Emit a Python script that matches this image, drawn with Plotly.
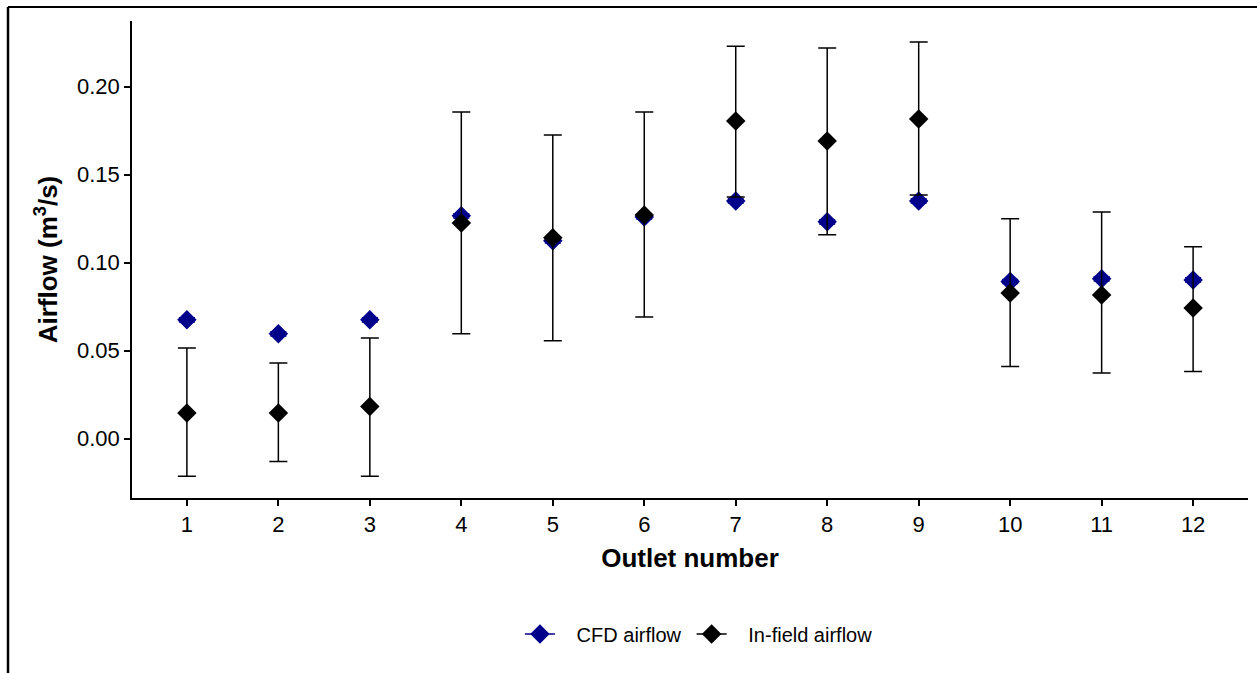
import plotly.graph_objects as go

outlets = [1, 2, 3, 4, 5, 6, 7, 8, 9, 10, 11, 12]
tick_labels = [str(o) for o in outlets]

cfd_airflow = [0.0675, 0.0596, 0.0675, 0.1266, 0.1124, 0.1260,
               0.1351, 0.1232, 0.1351, 0.0893, 0.0908, 0.0902]
cfd_err = [0.0012] * 12

infield_airflow = [0.0146, 0.0146, 0.0183, 0.1226, 0.1141, 0.1271,
                   0.1805, 0.1691, 0.1816, 0.0827, 0.0817, 0.0742]
infield_upper = [0.0515, 0.0430, 0.0572, 0.1856, 0.1725, 0.1856,
                 0.2230, 0.2219, 0.2253, 0.1249, 0.1288, 0.1091]
infield_lower = [-0.0214, -0.0129, -0.0214, 0.0596, 0.0556, 0.0692,
                 0.1373, 0.1158, 0.1385, 0.0410, 0.0373, 0.0382]

err_plus = [u - m for u, m in zip(infield_upper, infield_airflow)]
err_minus = [m - l for m, l in zip(infield_airflow, infield_lower)]

FONT = "Liberation Sans, Arial, sans-serif"
NAVY = "#00008B"
PAD = "\u00a0\u00a0\u00a0"

fig = go.Figure()

fig.add_trace(go.Scatter(
    x=outlets, y=cfd_airflow, mode="markers", name="CFD airflow",
    marker=dict(symbol="diamond", size=15, color=NAVY),
    error_y=dict(type="data", array=cfd_err, color=NAVY, thickness=1.5, width=8),
    showlegend=False,
))
fig.add_trace(go.Scatter(
    x=outlets, y=infield_airflow, mode="markers", name="In-field airflow",
    marker=dict(symbol="diamond", size=15, color="black"),
    error_y=dict(type="data", symmetric=False, array=err_plus, arrayminus=err_minus,
                 color="black", thickness=1.5, width=9),
    showlegend=False,
))
# legend entries (symbol with line, as in the reference)
fig.add_trace(go.Scatter(
    x=[None], y=[None], mode="lines+markers", name=PAD + "CFD airflow" + "\u00a0",
    marker=dict(symbol="diamond", size=15, color=NAVY),
    line=dict(color=NAVY, width=1.5),
))
fig.add_trace(go.Scatter(
    x=[None], y=[None], mode="lines+markers", name=PAD + "In-field airflow",
    marker=dict(symbol="diamond", size=15, color="black"),
    line=dict(color="black", width=1.5),
))

fig.update_layout(
    width=1257, height=673,
    margin=dict(l=132, r=9, t=21, b=175),
    paper_bgcolor="white", plot_bgcolor="white",
    font=dict(family=FONT, color="black"),
    legend=dict(orientation="h", x=0.508, xanchor="center", y=-0.285, yanchor="middle",
                font=dict(size=20, color="black"), itemwidth=30),
    shapes=[
        dict(type="line", xref="paper", yref="paper", x0=-0.1111, x1=1.0081,
             y0=1.0294, y1=1.0294, line=dict(color="black", width=2)),
        dict(type="line", xref="paper", yref="paper", x0=-0.1111, x1=-0.1111,
             y0=1.0294, y1=-0.3669, line=dict(color="black", width=2.5)),
    ],
)

fig.update_xaxes(
    range=[0.4, 12.6], tickvals=outlets, ticktext=tick_labels,
    showline=True, linecolor="black", linewidth=1.5, mirror=False,
    ticks="outside", ticklen=6, tickcolor="black", tickwidth=1.5,
    showgrid=False, zeroline=False,
    tickfont=dict(size=22, family=FONT, color="black"),
    title=dict(text="<b>Outlet number</b>", font=dict(size=26, family=FONT, color="black"), standoff=13),
)
fig.update_yaxes(
    range=[-0.0337, 0.2373], tickvals=[0.0, 0.05, 0.10, 0.15, 0.20],
    ticktext=["0.00", "0.05", "0.10", "0.15", "0.20"],
    showline=True, linecolor="black", linewidth=1.5, mirror=False,
    ticks="outside", ticklen=6, tickcolor="black", tickwidth=1.5,
    showgrid=False, zeroline=False,
    tickfont=dict(size=22, family=FONT, color="black"),
    title=dict(text="<b>Airflow (m<sup>3</sup>/s)</b>", font=dict(size=26, family=FONT, color="black"), standoff=12),
)

fig.write_html("out.html")
